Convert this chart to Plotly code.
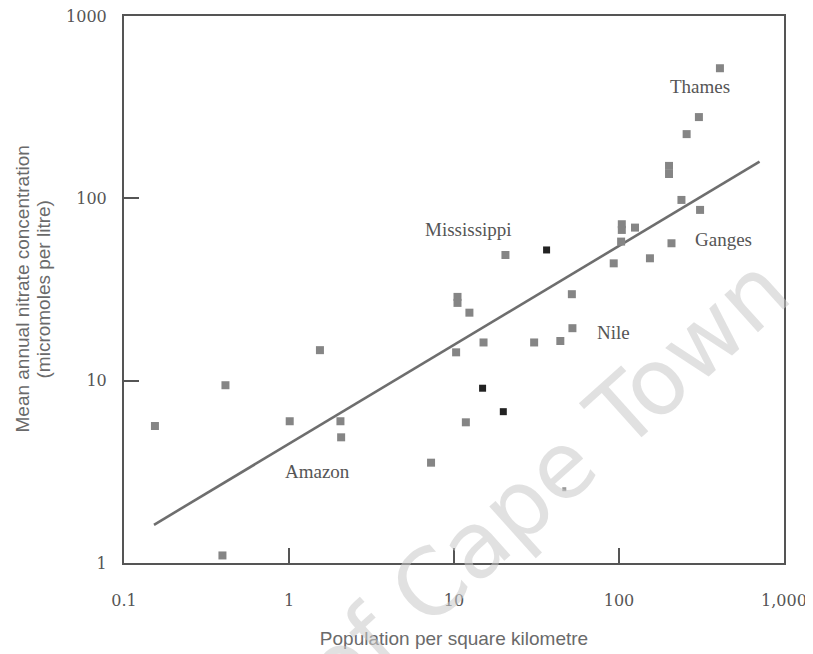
import math
import plotly.graph_objects as go

# ---- data ----
pop_gray = [0.154, 0.412, 0.395, 1.01, 1.54, 2.05, 2.07, 7.26, 10.3, 15.1, 30.6, 44.1,
            52.2, 51.8, 12.4, 10.5, 10.5, 11.8, 20.5, 92.9, 154, 208, 104, 104, 103,
            125, 239, 310, 201, 201, 257, 305, 409]
nitrate_gray = [5.64, 9.44, 1.10, 5.99, 14.7, 5.99, 4.89, 3.55, 14.3, 16.2, 16.2, 16.5,
                19.4, 29.8, 23.6, 28.8, 26.7, 5.91, 48.9, 44.0, 46.9, 56.7, 72.1, 67.1, 57.9,
                69.1, 98.0, 86.4, 150.6, 136, 225, 279, 517]
pop_black = [14.9, 19.9, 36.4]
nitrate_black = [9.09, 6.76, 52.1]
pop_faint = [46.6]
nitrate_faint = [2.54]

fit_pop = [0.152, 711]
fit_nitrate = [1.62, 159]

river_names = ["Thames", "Mississippi", "Ganges", "Nile", "Amazon"]
river_pop = [309, 12.2, 427, 92, 1.49]
river_nitrate = [408, 67.1, 59.1, 18.3, 3.16]

x_tickvals = [0.1, 1, 10, 100, 1000]
x_ticktext = ["0.1", "1", "10", "100", "1,000"]
y_tickvals = [1, 10, 100, 1000]
y_ticktext = ["1", "10", "100", "1000"]

fig = go.Figure()

fig.add_trace(go.Scatter(x=fit_pop, y=fit_nitrate, mode="lines",
                         line=dict(color="#6e6e6e", width=2.6), hoverinfo="skip"))
fig.add_trace(go.Scatter(x=pop_gray, y=nitrate_gray, mode="markers",
                         marker=dict(symbol="square", size=8, color="#858585")))
fig.add_trace(go.Scatter(x=pop_black, y=nitrate_black, mode="markers",
                         marker=dict(symbol="square", size=7, color="#222222")))
fig.add_trace(go.Scatter(x=pop_faint, y=nitrate_faint, mode="markers",
                         marker=dict(symbol="square", size=4, color="#9a9a9a")))

annotations = []
for name, px, ny in zip(river_names, river_pop, river_nitrate):
    annotations.append(dict(x=math.log10(px), y=math.log10(ny), xref="x", yref="y",
                            text=name, showarrow=False, xanchor="center", yanchor="middle",
                            font=dict(family="Liberation Serif", size=19, color="#555555")))

# y-axis title (two lines)
annotations.append(dict(x=0, y=0.5, xref="paper", yref="paper", xshift=-102, text="Mean annual nitrate concentration",
                        showarrow=False, textangle=-90, xanchor="center", yanchor="middle",
                        font=dict(family="Liberation Sans", size=19, color="#6a6a6a")))
annotations.append(dict(x=0, y=0.5, xref="paper", yref="paper", xshift=-81, text="(micromoles per litre)",
                        showarrow=False, textangle=-90, xanchor="center", yanchor="middle",
                        font=dict(family="Liberation Sans", size=19, color="#6a6a6a")))

# watermark
annotations.append(dict(x=0.64, y=0.15, xref="paper", yref="paper", text="of Cape Town",
                        showarrow=False, textangle=-42, xanchor="center", yanchor="middle",
                        font=dict(family="DejaVu Sans", size=92, color="rgba(200,200,200,0.55)")))

# page body has an 8px default margin, so the figure is sized to fill the rest
fig.update_layout(
    width=805, height=646,
    margin=dict(l=116, r=29, t=8, b=91),
    paper_bgcolor="white", plot_bgcolor="white",
    showlegend=False,
    annotations=annotations,
    xaxis=dict(type="log", range=[-1, 3], tickvals=x_tickvals, ticktext=x_ticktext,
               ticks="inside", ticklen=15, tickwidth=1.5, tickcolor="#555555",
               showline=True, linecolor="#555555", linewidth=2, mirror=True,
               showgrid=False, zeroline=False, ticklabelstandoff=22, automargin=False,
               ticklabeloverflow="allow",
               tickfont=dict(family="DejaVu Serif", size=16, color="#555555"),
               title=dict(text="Population per square kilometre", standoff=22,
                          font=dict(family="Liberation Sans", size=19, color="#6a6a6a"))),
    yaxis=dict(type="log", range=[0, 3], tickvals=y_tickvals, ticktext=y_ticktext,
               ticks="inside", ticklen=15, tickwidth=1.5, tickcolor="#555555",
               showline=True, linecolor="#555555", linewidth=2, mirror=True,
               showgrid=False, zeroline=False, ticklabelstandoff=12, automargin=False,
               ticklabeloverflow="allow",
               tickfont=dict(family="DejaVu Serif", size=16, color="#555555")),
)

fig.write_html("out.html")
